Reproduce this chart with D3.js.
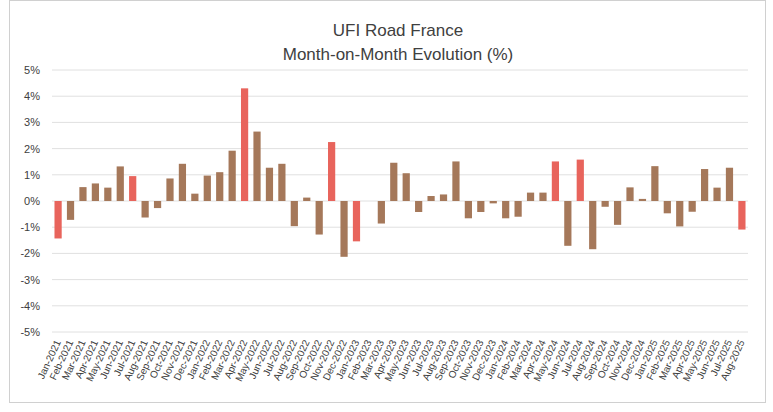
<!DOCTYPE html>
<html>
<head>
<meta charset="utf-8">
<script src="https://cdn.jsdelivr.net/npm/d3@7"></script>
<style>
  body { margin: 0; background: #fff; font-family: "Liberation Sans", Arial, sans-serif; }
</style>
</head>
<body>
<div id="chart"></div>
<script>
var months = ["Jan","Feb","Mar","Apr","May","Jun","Jul","Aug","Sep","Oct","Nov","Dec"];
var labels = [];
for (var y = 2021; y <= 2025; y++) {
    months.forEach(function (m, i) {
        if (y < 2025 || i < 8) labels.push(m + "-" + y);
    });
}

var values = [
    -1.43, -0.72, 0.53, 0.67, 0.51, 1.32, 0.95, -0.63, -0.27, 0.86, 1.42, 0.28,
    0.97, 1.10, 1.92, 4.30, 2.65, 1.27, 1.42, -0.96, 0.13, -1.28, 2.25, -2.13,
    -1.54, 0.0, -0.86, 1.46, 1.06, -0.42, 0.19, 0.25, 1.51, -0.66, -0.42, -0.09,
    -0.66, -0.60, 0.32, 0.32, 1.51, -1.71, 1.58, -1.84, -0.22, -0.91, 0.52, 0.08,
    1.33, -0.47, -0.97, -0.41, 1.22, 0.51, 1.27, -1.09
];
// bars drawn in the lighter red in the reference
var redMonths = ["Jan-2021", "Jul-2021", "Apr-2022", "Nov-2022", "Jan-2023", "May-2024", "Jul-2024", "Aug-2025"];
var yTicks = [-5, -4, -3, -2, -1, 0, 1, 2, 3, 4, 5];

var W = 773, H = 412;
var svg = d3.select("#chart").append("svg").attr("width", W).attr("height", H);

svg.append("rect").attr("x", 9.5).attr("y", 0.5).attr("width", 756).attr("height", 402)
    .attr("fill", "#fff").attr("stroke", "#d0d0d0");

svg.append("text").attr("x", 398).attr("y", 36).attr("text-anchor", "middle")
    .attr("font-size", 17).attr("fill", "#404040").text("UFI Road France");
svg.append("text").attr("x", 398).attr("y", 60).attr("text-anchor", "middle")
    .attr("font-size", 17).attr("fill", "#404040").text("Month-on-Month Evolution (%)");

var x = d3.scaleBand().domain(labels).range([52, 748]).paddingInner(0.42).paddingOuter(0.2);
var yS = d3.scaleLinear().domain([-5, 5]).range([332, 70]);

svg.append("g").selectAll("line").data(yTicks).join("line")
    .attr("x1", 52).attr("x2", 748)
    .attr("y1", function (d) { return yS(d); }).attr("y2", function (d) { return yS(d); })
    .attr("stroke", "#e0e0e0").attr("stroke-width", 1);

svg.append("g").selectAll("text").data(yTicks).join("text")
    .attr("x", 40).attr("y", function (d) { return yS(d) + 4; })
    .attr("text-anchor", "end").attr("font-size", 11).attr("fill", "#404040")
    .text(function (d) { return d + "%"; });

svg.append("g").selectAll("rect").data(values).join("rect")
    .attr("x", function (d, i) { return x(labels[i]); })
    .attr("width", x.bandwidth())
    .attr("y", function (d) { return yS(Math.max(0, d)); })
    .attr("height", function (d) { return Math.abs(yS(d) - yS(0)); })
    .attr("fill", function (d, i) { return redMonths.indexOf(labels[i]) >= 0 ? "#e8645c" : "#a5785a"; });

svg.append("g").selectAll("text").data(labels).join("text")
    .attr("transform", function (d) {
        return "translate(" + (x(d) + x.bandwidth() / 2 + 3) + ",342) rotate(-65)";
    })
    .attr("text-anchor", "end").attr("font-size", 10).attr("fill", "#404040")
    .text(function (d) { return d; });
</script>
</body>
</html>
